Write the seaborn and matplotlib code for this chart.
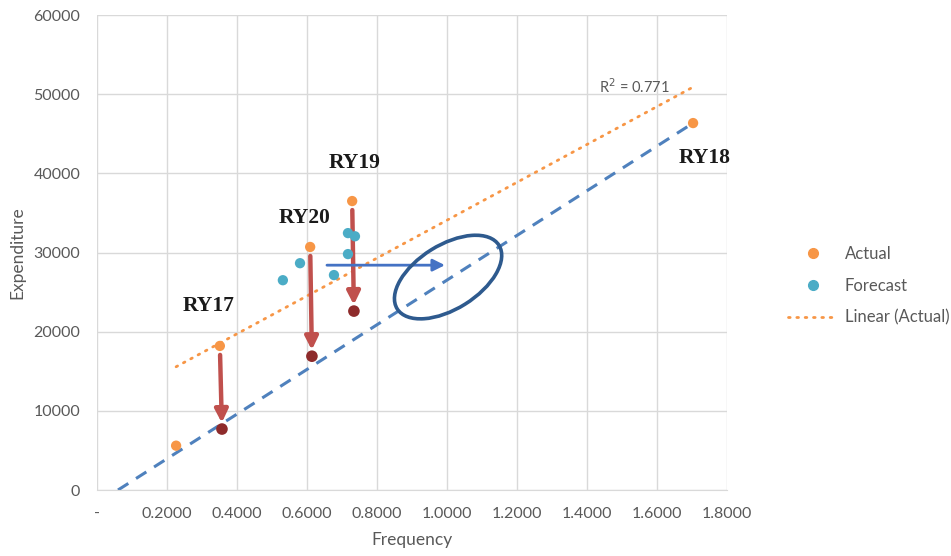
import numpy as np
import matplotlib
matplotlib.use("Agg")
import matplotlib.pyplot as plt
import matplotlib.transforms as mtransforms
from matplotlib.patches import Ellipse
from matplotlib.lines import Line2D
import seaborn as sns

# actual values (orange)
actual_freq = [0.226, 0.351, 0.609, 0.729, 1.703]
actual_exp = [5600, 18200, 30700, 36500, 46350]

# forecast values (teal)
forecast_freq = [0.531, 0.580, 0.677, 0.717, 0.717, 0.737]
forecast_exp = [26500, 28650, 27150, 29800, 32450, 32050]

# adjusted points (dark red), paired with RY17, RY20, RY19
adj_labels = ["RY17", "RY20", "RY19"]
adj_from_freq = [0.351, 0.609, 0.729]
adj_from_exp = [18200, 30700, 36500]
adj_freq = [0.357, 0.614, 0.734]
adj_exp = [7700, 16900, 22600]

# reference (dashed) line
ref_freq = [0.06, 1.703]
ref_exp = [0, 46350]

# label positions
label_names = ["RY17", "RY20", "RY19", "RY18"]
label_freq = [0.318, 0.594, 0.737, 1.735]
label_exp = [23300, 34400, 41300, 42000]

# shift arrow
shift_freq = [0.657, 0.994]
shift_exp = [28400, 28400]
ellipse_center = (1.003, 26900)

xticks = [0, 0.2, 0.4, 0.6, 0.8, 1.0, 1.2, 1.4, 1.6, 1.8]
yticks = [0, 10000, 20000, 30000, 40000, 50000, 60000]

sns.set_style("white")
plt.rcParams["font.family"] = ["Lato", "DejaVu Sans"]

ORANGE = "#F79646"
TEAL = "#4BACC6"
DARKRED = "#8E2B2B"
RED = "#C0504D"
BLUE = "#4F81BD"
NAVY = "#2E5A8E"
GRAY = "#595959"

fig, ax = plt.subplots(figsize=(9.51, 5.56), dpi=100)
fig.subplots_adjust(left=0.102, right=0.7645, top=0.973, bottom=0.1187)

sns.lineplot(x=ref_freq, y=ref_exp, ax=ax, color=BLUE, lw=2.2,
             linestyle=(0, (4, 3)), zorder=2)
sns.regplot(x=np.array(actual_freq), y=np.array(actual_exp), ax=ax,
            scatter=False, ci=None, truncate=True,
            line_kws=dict(color=ORANGE, lw=2, linestyle=(0, (0.6, 2.4)),
                          dash_capstyle="round", zorder=2))

for x0, y0, x1, y1 in zip(adj_from_freq, adj_from_exp, adj_freq, adj_exp):
    ax.annotate("", xy=(x1, y1), xytext=(x0, y0),
                arrowprops=dict(arrowstyle="-|>,head_length=0.7,head_width=0.35",
                                color=RED, lw=3.2, shrinkA=6.5, shrinkB=4.5,
                                mutation_scale=11), zorder=3)

sns.scatterplot(x=actual_freq, y=actual_exp, ax=ax, color=ORANGE, s=55,
                edgecolor="none", zorder=4)
sns.scatterplot(x=forecast_freq, y=forecast_exp, ax=ax, color=TEAL, s=55,
                edgecolor="none", zorder=4)
sns.scatterplot(x=adj_freq, y=adj_exp, ax=ax, color=DARKRED, s=70,
                edgecolor="none", zorder=4)

ax.annotate("", xy=(shift_freq[1], shift_exp[1]), xytext=(shift_freq[0], shift_exp[0]),
            arrowprops=dict(arrowstyle="-|>,head_length=0.6,head_width=0.3",
                            color="#4472C4", lw=2, shrinkA=0, shrinkB=0,
                            mutation_scale=12), zorder=3)

trans = fig.dpi_scale_trans + mtransforms.ScaledTranslation(
    ellipse_center[0], ellipse_center[1], ax.transData)
ax.add_patch(Ellipse((0, 0), width=1.2, height=0.64, angle=32,
                     transform=trans, fill=False, edgecolor=NAVY, lw=2.6, zorder=3))

for name, x, y in zip(label_names, label_freq, label_exp):
    ax.text(x, y, name, ha="center", va="center", fontsize=15.5, fontweight="bold",
            family=["Liberation Serif", "DejaVu Serif"], color="#1a1a1a", zorder=5)

ax.text(1.535, 51000, "R$^2$ = 0.771", ha="center", va="center", fontsize=10.5,
        color=GRAY)

ax.set_xlim(0, 1.8)
ax.set_ylim(0, 60000)
ax.set_xticks(xticks)
ax.set_yticks(yticks)
ax.set_xticklabels(["-" if t == 0 else f"{t:.4f}" for t in xticks])
ax.set_yticklabels([str(t) for t in yticks])
ax.tick_params(length=0, labelsize=11.5, labelcolor=GRAY, pad=12)
ax.grid(True, color="#D9D9D9", lw=1)
ax.set_axisbelow(True)
for side in ["top", "right", "left"]:
    ax.spines[side].set_visible(False)
ax.spines["bottom"].set_color("#D9D9D9")
ax.set_xlabel("Frequency", fontsize=12.5, color=GRAY, labelpad=8)
ax.set_ylabel("Expenditure", fontsize=12.5, color=GRAY, labelpad=6)

handles = [
    Line2D([], [], marker="o", linestyle="none", color=ORANGE, markersize=7),
    Line2D([], [], marker="o", linestyle="none", color=TEAL, markersize=7),
    Line2D([], [], color=ORANGE, lw=2, linestyle=(0, (0.6, 2.4)), dash_capstyle="round"),
]
fig.legend(handles, ["Actual", "Forecast", "Linear (Actual)"], loc="center left",
           bbox_to_anchor=(788 / 951, 1 - 286 / 556), frameon=False, fontsize=12,
           labelcolor=GRAY, handlelength=3.0, handletextpad=0.4, labelspacing=0.95,
           borderpad=0, borderaxespad=0)

fig.savefig("out.png", dpi=100)
